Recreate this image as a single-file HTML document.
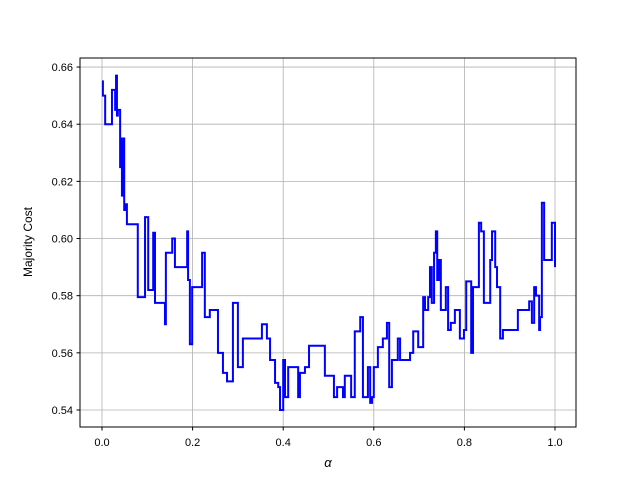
<!DOCTYPE html>
<html><head><meta charset="utf-8"><style>
body{margin:0;background:#fff}
svg{display:block;font-family:"Liberation Sans","DejaVu Sans",sans-serif}
</style></head><body>
<svg id="chart" width="640" height="480">
<g id="grid"></g>
<rect x="80" y="58" width="496" height="369" fill="none" stroke="#000" stroke-width="1"/>
<g id="ticks"></g>
<path id="line" fill="none" stroke="#0000ff" stroke-width="2"/>
<text x="328" y="467" font-size="13" font-style="italic" text-anchor="middle">α</text>
<text x="32" y="242" font-size="12" text-anchor="middle" transform="rotate(-90 32 242)">Majority Cost</text>
</svg>
<script>
const alphas=[0,.002,.007,.022,.029,.031,.033,.035,.040,.042,.044,.046,.049,.053,.055,.062,.079,.095,.102,.113,.117,.139,.141,.155,.161,.188,.190,.194,.199,.221,.227,.238,.256,.267,.276,.289,.300,.311,.327,.353,.364,.371,.382,.389,.393,.400,.404,.411,.433,.437,.448,.457,.492,.512,.519,.532,.536,.550,.558,.570,.576,.587,.592,.596,.600,.609,.620,.629,.634,.640,.653,.658,.680,.687,.698,.709,.713,.720,.724,.728,.733,.737,.740,.744,.748,.759,.764,.770,.779,.790,.799,.804,.815,.819,.832,.837,.843,.857,.861,.868,.872,.879,.885,.918,.943,.949,.954,.958,.965,.967,.971,.976,.993,1.0];
const costs=[.655,.650,.640,.652,.645,.657,.643,.645,.625,.635,.615,.635,.610,.612,.605,.605,.5795,.6075,.582,.602,.5775,.570,.595,.600,.590,.6025,.5855,.563,.583,.595,.5725,.575,.560,.553,.550,.5775,.555,.565,.565,.570,.565,.5575,.5495,.548,.540,.5575,.5445,.555,.5445,.553,.555,.5625,.552,.5445,.548,.5445,.552,.5445,.5675,.5725,.5445,.555,.5425,.5445,.555,.562,.565,.5705,.548,.5575,.565,.5575,.560,.5675,.562,.5795,.575,.5795,.590,.5775,.595,.6025,.5855,.5925,.575,.583,.568,.5705,.575,.565,.568,.585,.560,.583,.6055,.6025,.5775,.5925,.6025,.590,.583,.565,.568,.575,.578,.5705,.583,.580,.568,.5725,.6125,.5925,.6055,.590,.590];
const xTicks=[0,0.2,0.4,0.6,0.8,1.0];
const xTickLabels=["0.0","0.2","0.4","0.6","0.8","1.0"];
const yTicks=[0.54,0.56,0.58,0.60,0.62,0.64,0.66];
const yTickLabels=["0.54","0.56","0.58","0.60","0.62","0.64","0.66"];
const X=a=>102+453*a;
const Y=v=>410-(v-0.54)*2858;
const ns="http://www.w3.org/2000/svg";
const grid=document.getElementById('grid'),ticks=document.getElementById('ticks');
function mk(tag,attrs,parent){const e=document.createElementNS(ns,tag);for(const k in attrs)e.setAttribute(k,attrs[k]);parent.appendChild(e);return e;}
xTicks.forEach((t,i)=>{
 const gl=mk('line',{x1:X(t),x2:X(t),y1:58,y2:427,stroke:'#b0b0b0','stroke-width':0.8},grid);
 
 
 const tk=mk('line',{x1:X(t),x2:X(t),y1:427,y2:430.5,stroke:'#000'},ticks);
 
 
 const tx=mk('text',{x:X(t),y:446,'font-size':11,'text-anchor':'middle'},ticks);
 tx.textContent=xTickLabels[i];
 
 
});
yTicks.forEach((t,i)=>{
 const gl=mk('line',{x1:80,x2:576,y1:Y(t),y2:Y(t),stroke:'#b0b0b0','stroke-width':0.8},grid);
 
 
 const tk=mk('line',{x1:76.5,x2:80,y1:Y(t),y2:Y(t),stroke:'#000'},ticks);
 
 
 const tx=mk('text',{x:73,y:Y(t)+4,'font-size':11,'text-anchor':'end'},ticks);
 tx.textContent=yTickLabels[i];
 
 
});
let d='M'+X(alphas[0])+','+Y(costs[0]);
for(let i=1;i<alphas.length;i++){d+=' H'+X(alphas[i])+' V'+Y(costs[i]);}
document.getElementById('line').setAttribute('d',d);
</script>
</body></html>
